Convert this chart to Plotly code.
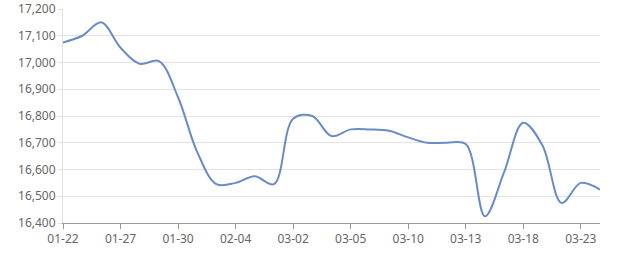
import plotly.graph_objects as go

dates = ["01-22", "01-24", "01-25", "01-27", "01-28", "01-29", "01-30", "02-01", "02-02",
         "02-04", "02-05", "02-06", "03-02", "03-03", "03-04", "03-05", "03-07", "03-08",
         "03-10", "03-11", "03-12", "03-13", "03-15", "03-16", "03-18", "03-19", "03-21",
         "03-23", "03-24"]
prices = [17075, 17100, 17150, 17055, 16995, 17005, 16870, 16665, 16545,
          16550, 16575, 16545, 16790, 16800, 16725, 16750, 16750, 16745,
          16720, 16700, 16700, 16695, 16425, 16590, 16775, 16690, 16475,
          16550, 16525]
tick_labels = ["01-22", "01-27", "01-30", "02-04", "03-02", "03-05", "03-10", "03-13", "03-18", "03-23"]
y_ticks = list(range(16400, 17201, 100))

fig = go.Figure()
fig.add_trace(go.Scatter(
    x=dates, y=prices, mode="lines",
    line=dict(color="#6a8cc2", width=2, shape="spline", smoothing=1.0),
    hoverinfo="x+y",
))

fig.update_layout(
    width=640, height=270,
    margin=dict(l=63, r=40, t=9, b=47, autoexpand=False),
    paper_bgcolor="white", plot_bgcolor="white",
    showlegend=False,
    font=dict(family="Noto Sans, DejaVu Sans, sans-serif", size=12, color="#666"),
)
fig.update_xaxes(
    type="category", categoryorder="array", categoryarray=dates,
    range=[0, len(dates) - 1],
    tickvals=tick_labels, ticktext=tick_labels,
    showline=True, linecolor="#999", linewidth=1,
    ticks="outside", ticklen=5, tickcolor="#999",
    showgrid=False, zeroline=False, automargin=False,
    tickfont=dict(size=12, color="#666"),
)
fig.update_yaxes(
    range=[16400, 17200], tickvals=y_ticks, tickformat=",",
    showgrid=True, gridcolor="#e3e3e3", gridwidth=1,
    showline=True, linecolor="#e3e3e3",
    ticks="outside", ticklen=4, tickcolor="#e3e3e3",
    zeroline=False, automargin=False,
    tickfont=dict(size=12, color="#666"),
)

fig.write_html("out.html")
